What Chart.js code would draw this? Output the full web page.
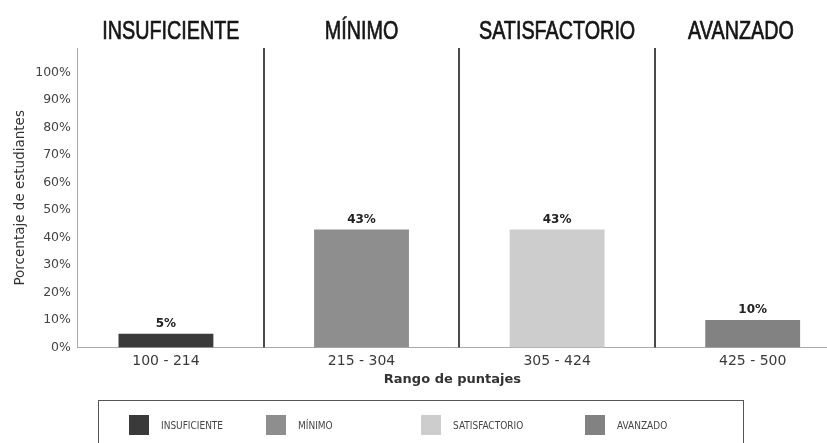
<!DOCTYPE html>
<html lang="es">
<head>
    <meta charset="UTF-8">
    <title>Rango de puntajes</title>
    <script src="https://cdn.jsdelivr.net/npm/chart.js"></script>
    <style>
        html, body { margin: 0; padding: 0; background: #fff; }
        .chart-box { width: 827px; height: 443px; position: relative; }
        #legend {
            position: absolute;
            left: 98px; top: 400px;
            width: 646px; height: 50px;
            border: 1px solid #555;
            box-sizing: border-box;
            display: grid;
            grid-template-columns: 137px 155px 164px 1fr;
            padding-left: 30px;
            align-items: start;
            padding-top: 14px;
        }
        #legend .item { display: flex; align-items: center; }
        #legend .swatch { width: 20px; height: 20px; margin-right: 12px; }
        #legend .label {
            font-family: "DejaVu Sans Condensed", sans-serif;
            font-size: 10px; color: #444;
        }
    </style>
</head>
<body>
    <div class="chart-box">
        <canvas id="levelChart"></canvas>
        <div id="legend"></div>
    </div>

    <script>
        // data
        const levels = ['INSUFICIENTE', 'MÍNIMO', 'SATISFACTORIO', 'AVANZADO'];
        const scoreRanges = ['100 - 214', '215 - 304', '305 - 424', '425 - 500'];
        const percentages = [5, 43, 43, 10];
        const barColors = ['#3a3a3a', '#8e8e8e', '#cdcdcd', '#828282'];
        const yTickValues = [0, 10, 20, 30, 40, 50, 60, 70, 80, 90, 100];

        // separators between zones, titles on top, values above bars
        const zonePlugin = {
            id: 'zones',
            afterDatasetsDraw(chart) {
                const { ctx, chartArea, scales } = chart;
                const x = scales.x, y = scales.y;
                ctx.save();
                ctx.strokeStyle = '#4a4a4a';
                ctx.lineWidth = 2;
                for (let i = 0; i < levels.length - 1; i++) {
                    const px = Math.round(x.getPixelForValue(i + 0.5));
                    ctx.beginPath();
                    ctx.moveTo(px, chartArea.top);
                    ctx.lineTo(px, chartArea.bottom);
                    ctx.stroke();
                }
                // zone titles, condensed look
                ctx.fillStyle = '#161616';
                ctx.strokeStyle = '#161616';
                ctx.lineWidth = 0.7;
                ctx.textAlign = 'center';
                ctx.textBaseline = 'alphabetic';
                ctx.font = '26px "Liberation Sans", sans-serif';
                const squeeze = 0.76;
                levels.forEach((t, i) => {
                    const l = Math.max(chartArea.left, x.getPixelForValue(i - 0.5));
                    const r = Math.min(chartArea.right, x.getPixelForValue(i + 0.5));
                    ctx.save();
                    ctx.translate((l + r) / 2, 39);
                    ctx.scale(squeeze, 1);
                    ctx.fillText(t, 0, 0);
                    ctx.strokeText(t, 0, 0);
                    ctx.restore();
                });
                ctx.font = 'bold 12px "DejaVu Sans", sans-serif';
                ctx.fillStyle = '#222';
                ctx.textBaseline = 'bottom';
                percentages.forEach((v, i) => {
                    ctx.fillText(v + '%', x.getPixelForValue(i), y.getPixelForValue(v) - 4);
                });
                ctx.restore();
            }
        };

        const ctx = document.getElementById('levelChart').getContext('2d');
        const levelChart = new Chart(ctx, {
            type: 'bar',
            data: {
                datasets: [{
                    label: 'Porcentaje de estudiantes',
                    data: percentages.map((v, i) => ({ x: i, y: v })),
                    backgroundColor: barColors,
                    borderWidth: 0,
                    categoryPercentage: 1,
                    barPercentage: 0.485
                }]
            },
            options: {
                responsive: true,
                maintainAspectRatio: false,
                animation: false,
                layout: { padding: { top: 48, right: 0, left: 12, bottom: 56 } },
                scales: {
                    x: {
                        type: 'linear',
                        offset: false,
                        min: -0.45,
                        max: 3.38,
                        afterBuildTicks: (axis) => {
                            axis.ticks = scoreRanges.map((r, i) => ({ value: i }));
                        },
                        ticks: {
                            callback: (v) => scoreRanges[v],
                            color: '#3a3a3a',
                            font: { family: 'DejaVu Sans', size: 14 },
                            padding: 1
                        },
                        grid: { display: false, offset: false, tickLength: 4 },
                        border: { color: '#aaa', width: 1 },
                        title: {
                            display: true,
                            text: 'Rango de puntajes',
                            color: '#333',
                            font: { family: 'DejaVu Sans', size: 13, weight: 'bold' },
                            padding: { top: 1, bottom: 0 }
                        }
                    },
                    y: {
                        min: 0,
                        max: 109,
                        afterBuildTicks: (axis) => {
                            axis.ticks = yTickValues.map(v => ({ value: v }));
                        },
                        ticks: {
                            callback: (v) => v + '%',
                            color: '#444',
                            font: { family: 'DejaVu Sans', size: 12.5 },
                            padding: 3
                        },
                        grid: { display: false, tickLength: 4 },
                        border: { color: '#aaa', width: 1 },
                        title: {
                            display: true,
                            text: 'Porcentaje de estudiantes',
                            color: '#333',
                            font: { family: 'DejaVu Sans', size: 13.5 },
                            padding: { top: 0, bottom: 4 }
                        }
                    }
                },
                plugins: {
                    tooltip: { enabled: false },
                    legend: { display: false }
                }
            },
            plugins: [zonePlugin]
        });

        // html legend built from the same arrays
        const legendEl = document.getElementById('legend');
        levels.forEach((t, i) => {
            const item = document.createElement('div');
            item.className = 'item';
            item.innerHTML = '<span class="swatch" style="background:' + barColors[i] + '"></span>' +
                '<span class="label">' + t + '</span>';
            legendEl.appendChild(item);
        });
    </script>
</body>
</html>
